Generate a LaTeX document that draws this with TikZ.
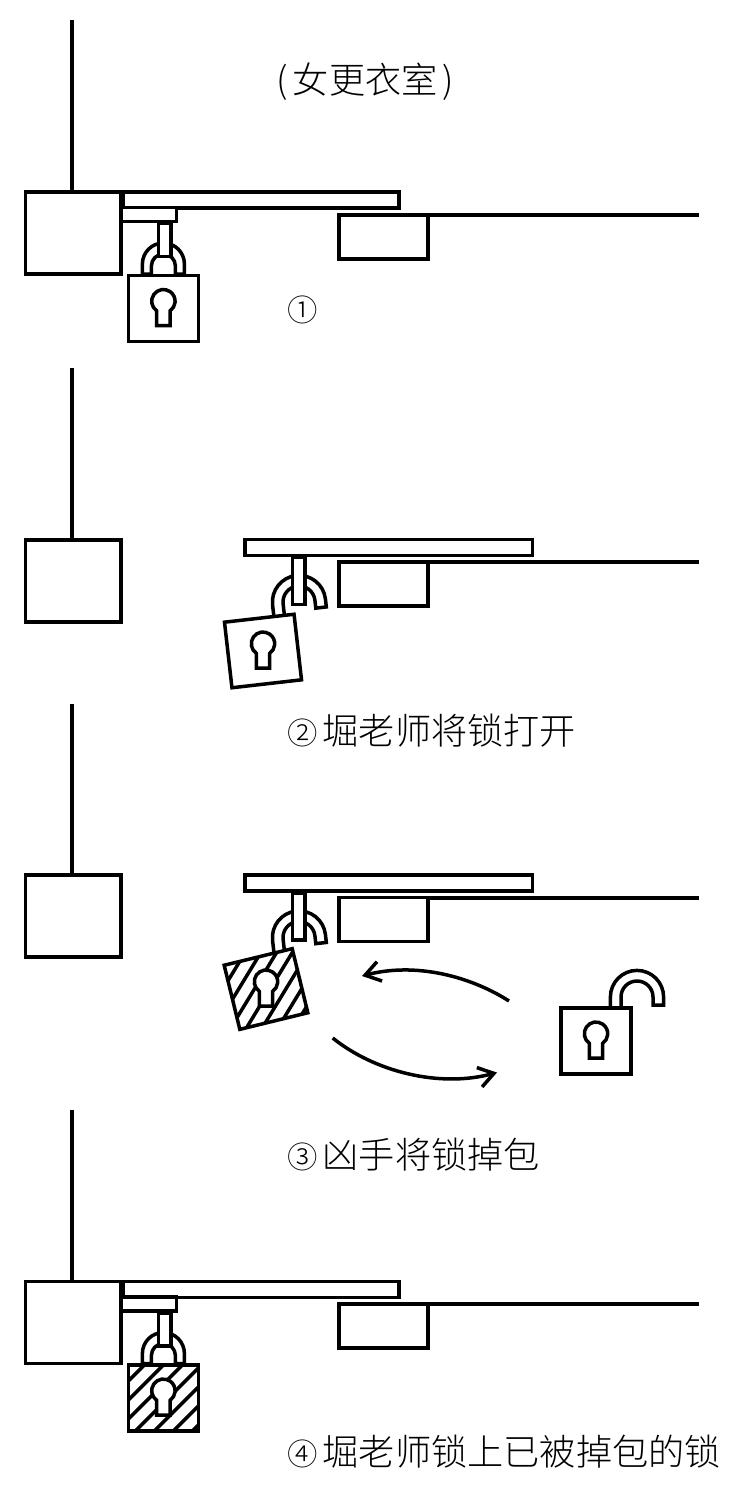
\documentclass[tikz,border=0pt]{standalone}
\usepackage{fontspec}
\newfontfamily\cjk{Noto Sans CJK SC Light}
\newcommand{\capnum}[1]{\makebox[17.6pt][l]{\fontsize{15.2}{15.2}\selectfont #1}}
\usetikzlibrary{arrows.meta}

\begin{document}
\begin{tikzpicture}[
    x=0.5pt, y=-0.5pt,
    line/.style={line width=1.75pt, black},
    jamb/.style={rectangle, draw, line width=1.75pt, fill=white, inner sep=0pt, minimum width=47.6pt, minimum height=41pt},
    bar/.style={rectangle, draw, line width=1.75pt, fill=white, inner sep=0pt, minimum height=7.8pt},
    hasp/.style={rectangle, draw, line width=1.75pt, fill=white, inner sep=0pt, minimum width=28.5pt, minimum height=6.8pt},
    strike/.style={rectangle, draw, line width=1.75pt, fill=white, inner sep=0pt, minimum width=44.5pt, minimum height=21.8pt},
    staple/.style={rectangle, draw, line width=1.75pt, fill=white, inner sep=0pt, minimum width=6.4pt},
    caption/.style={inner sep=0pt, anchor=west, font=\cjk\fontsize{18.1}{18.1}\selectfont},
    arrow/.style={line width=1.75pt, -{Straight Barb[length=7.5pt, width=10pt, line width=1.75pt]}},
    keyhole/.pic={
        \draw[line, fill=white] (-6.7,17) -- (-6.7,2.3) arc (125:415:11.7) -- (6.7,17) -- cycle;
    },
    padlock/.pic={
        \draw[line, fill=white] (-35,-33) rectangle (35,33);
        \pic at (0,0) {keyhole};
    },
    hatchlock/.pic={
        \draw[line, fill=white] (-35,-33) rectangle (35,33);
        \begin{scope}
            \clip (-35,-33) rectangle (35,33);
            \foreach \d in {-90,-71,...,90}
                \draw[line] (\d-50,50) -- (\d+50,-50);
        \end{scope}
        \pic at (0,0) {keyhole};
    },
    closedshackle/.pic={
        \draw[line, fill=white] (-21,0) -- (-21,-10) arc (180:360:21) -- (21,0) -- (12,0) -- (12,-8) arc (360:180:12) -- (-12,0) -- cycle;
    },
    openshackle/.pic={
        \draw[line, fill=white] (-26.6,14) -- (-26.6,0) arc (180:360:26.6) -- (26.6,8) -- (16,8) -- (16,0) arc (360:180:16) -- (-16,14) -- cycle;
    }
]
\useasboundingbox (0,0) rectangle (753,1503);

% Panel 1
\node[caption] (room) at (276,81.5) {(\kern2.5pt 女更衣室\kern2.5pt )};
\coordinate (top1) at (72,20);
\coordinate (end1) at (699,215);
\node[bar, minimum width=138pt] (bar1) at (261,200) {};
\node[strike] (strike1) at (383.5,237) {};
\draw[line] (strike1.north east |- end1) -- (end1);
\pic at (163.4,274) {closedshackle};
\node[hasp] (hasp1) at (148,214.5) {};
\node[staple, minimum height=16.4pt] (staple1) at (164.7,240) {};
\pic at (163.4,308.5) {padlock};
\node[jamb] (jamb1) at (73.3,233) {};
\draw[line] (top1) -- (top1 |- jamb1.north);
\node[caption] (cap1) at (287,309.7) {\capnum{①}};

% Panel 2
\coordinate (top2) at (72,368);
\coordinate (end2) at (699,562);
\node[jamb] (jamb2) at (73.3,581) {};
\draw[line] (top2) -- (top2 |- jamb2.north);
\node[bar, minimum width=143.6pt] (bar2) at (388.7,547.5) {};
\node[strike] (strike2) at (383.5,584) {};
\draw[line] (strike2.north east |- end2) -- (end2);
\pic[rotate=6.5] at (299,602) {openshackle};
\node[staple, minimum height=23.4pt] (staple2) at (298.7,581) {};
\pic[rotate=6.5] at (263,651) {padlock};
\node[caption] (cap2) at (287,730.5) {\capnum{②}堀老师将锁打开};

% Panel 3
\coordinate (top3) at (72,704);
\coordinate (end3) at (699,898);
\node[jamb] (jamb3) at (73.3,916) {};
\draw[line] (top3) -- (top3 |- jamb3.north);
\node[bar, minimum width=143.6pt] (bar3) at (388.7,883) {};
\node[strike] (strike3) at (383.5,919.5) {};
\draw[line] (strike3.north east |- end3) -- (end3);
\pic[rotate=6.5] at (299,937.5) {openshackle};
\node[staple, minimum height=23.4pt] (staple3) at (298.7,916.5) {};
\pic[rotate=13.7] at (266,989) {hatchlock};
\pic at (637,997) {openshackle};
\pic at (596,1041) {padlock};
\coordinate (backstart) at (509,1001);
\coordinate (backend) at (362,976);
\coordinate (swapstart) at (332.7,1038);
\coordinate (swapend) at (497,1072.5);
\draw[arrow] (backstart) .. controls (470,976) and (415,962) .. (backend);
\draw[arrow] (swapstart) .. controls (375,1072) and (440,1088) .. (swapend);
\node[caption] (cap3) at (287,1155) {\capnum{③}凶手将锁掉包};

% Panel 4
\coordinate (top4) at (72,1110);
\coordinate (end4) at (699,1304);
\node[bar, minimum width=138pt] (bar4) at (261,1289.5) {};
\node[strike] (strike4) at (383.5,1326) {};
\draw[line] (strike4.north east |- end4) -- (end4);
\pic at (163.4,1363.5) {closedshackle};
\node[hasp] (hasp4) at (148,1304) {};
\node[staple, minimum height=16.4pt] (staple4) at (164.7,1329.5) {};
\pic at (163.4,1398) {hatchlock};
\node[jamb] (jamb4) at (73.3,1322.5) {};
\draw[line] (top4) -- (top4 |- jamb4.north);
\node[caption] (cap4) at (287,1451.7) {\capnum{④}堀老师锁上已被掉包的锁};

\end{tikzpicture}
\end{document}
